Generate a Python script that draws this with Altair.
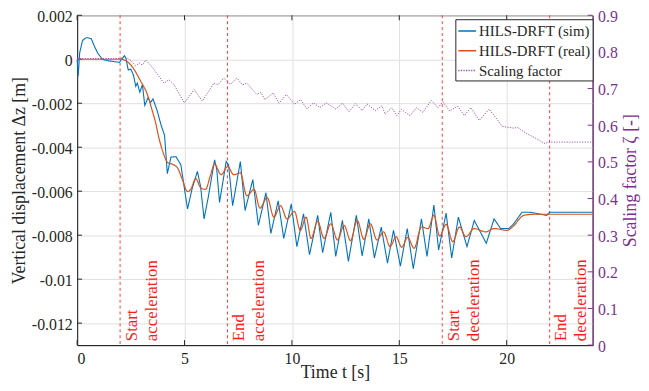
import altair as alt
import pandas as pd

# ---- data (dz in mm, converted to m below) ----
t_sim = [0.0, 0.05, 0.12, 0.25, 0.4, 0.5, 0.66, 0.8, 0.97, 1.18, 1.43, 1.97, 2.2, 2.27,
         2.38, 2.5, 2.62, 2.73, 2.8, 2.92, 3.04, 3.15, 3.3, 3.42, 3.53, 3.73, 3.91, 4.07,
         4.2, 4.37, 4.6, 4.83, 4.99, 5.14, 5.35, 5.6, 5.75, 5.91, 6.1, 6.4, 6.5, 6.63,
         6.94, 7.05, 7.24, 7.6, 7.82, 8.18, 8.44, 8.79, 9.02, 9.36, 9.62, 9.97, 10.23,
         10.54, 10.82, 11.2, 11.43, 11.81, 12.04, 12.35, 12.63, 13.0, 13.27, 13.58, 13.84,
         14.16, 14.45, 14.73, 15.05, 15.37, 15.65, 16.03, 16.29, 16.61, 16.83, 17.18,
         17.44, 17.75, 18.15, 18.49, 19.05, 19.41, 19.72, 20.1, 20.33, 20.71, 21.1, 21.86,
         22.0, 24.0]
dz_sim_mm = [0.0, -0.75, 0.3, 0.85, 0.97, 0.98, 0.93, 0.6, 0.26, 0.0, -0.07, -0.14, 0.16, 0.05,
             -0.49, -0.45, -0.71, -1.23, -1.08, -1.5, -1.16, -2.1, -1.75, -1.97, -1.8, -2.35, -3.0, -3.46,
             -5.2, -4.45, -4.43, -4.8, -5.84, -6.81, -5.9, -5.1, -5.8, -7.26, -6.3, -4.58, -5.0, -6.51,
             -4.65, -4.8, -6.66, -4.65, -6.88, -5.47, -7.55, -6.07, -7.92, -6.44, -8.15, -6.58, -8.52,
             -7.03, -8.89, -7.1, -8.8, -6.96, -8.97, -7.33, -9.19, -7.1, -8.94, -7.26, -9.04,
             -7.63, -9.27, -7.78, -9.41, -7.7, -9.52, -7.26, -8.97, -6.63, -8.67, -7.0,
             -9.04, -7.18, -8.52, -7.33, -8.37, -7.26, -7.7, -7.7, -7.48, -6.96, -6.96, -7.1,
             -6.96, -6.96]

t_real = [0.0, 2.04, 2.5, 2.96, 3.27, 3.5, 3.65, 3.8, 3.99, 4.22, 4.45, 4.68, 4.91, 5.14,
          5.3, 5.52, 5.75, 5.98, 6.2, 6.4, 6.7, 7.01, 7.29, 7.6, 7.9, 8.24, 8.51, 8.85,
          9.16, 9.47, 9.77, 10.12, 10.39, 10.66, 10.89, 11.2, 11.5, 11.81, 12.12, 12.43,
          12.73, 13.04, 13.35, 13.65, 13.96, 14.27, 14.57, 14.85, 15.11, 15.39, 15.69,
          16.03, 16.34, 16.61, 16.88, 17.18, 17.49, 17.8, 18.1, 18.49, 19.02, 19.41,
          20.02, 20.3, 20.79, 21.25, 24.0]
dz_real_mm = [0.0, 0.0, -0.26, -1.0, -1.6, -2.35, -2.87, -3.55, -4.2, -4.7, -4.78, -4.95, -5.5, -6.02,
              -5.9, -5.43, -5.84, -5.92, -5.3, -4.77, -5.25, -4.88, -5.25, -5.17, -6.21, -5.92, -6.77, -6.29,
              -7.18, -6.66, -7.26, -6.92, -7.78, -7.18, -8.15, -7.37, -8.15, -7.48, -8.22, -7.55,
              -8.25, -7.33, -8.19, -7.48, -8.22, -7.85, -8.52, -8.07, -8.55, -8.1, -8.6,
              -7.63, -7.7, -7.1, -8.04, -7.51, -8.3, -7.63, -8.07, -7.7, -7.85, -7.7,
              -7.78, -7.6, -7.1, -7.05, -7.05]

t_scale = [0.0, 2.03, 2.2, 2.5, 2.73, 2.89, 3.04, 3.19, 3.42, 3.73, 4.04, 4.27, 4.5, 4.99,
           5.45, 5.83, 6.37, 6.55, 6.83, 7.13, 7.44, 7.7, 7.9, 8.36, 8.55, 8.74, 9.13, 9.4,
           9.74, 10.12, 10.4, 10.7, 11.0, 11.3, 11.6, 12.04, 12.35, 12.66, 12.96, 13.27,
           13.5, 13.88, 14.19, 14.34, 14.65, 14.88, 15.1, 15.5, 15.8, 16.1, 16.49, 16.8,
           17.03, 17.34, 17.72, 18.03, 18.33, 18.72, 19.18, 19.5, 19.79, 20.1, 20.33, 20.5,
           20.94, 21.4, 21.78, 21.94, 24.0]
zeta = [0.782, 0.782, 0.787, 0.777, 0.762, 0.77, 0.764, 0.778, 0.764, 0.74, 0.715, 0.724, 0.712, 0.661,
        0.697, 0.666, 0.715, 0.71, 0.729, 0.711, 0.729, 0.71, 0.715, 0.684, 0.69, 0.67, 0.688, 0.66,
        0.684, 0.657, 0.67, 0.644, 0.661, 0.648, 0.661, 0.644, 0.66, 0.637, 0.659, 0.64,
        0.658, 0.64, 0.653, 0.63, 0.648, 0.626, 0.643, 0.626, 0.648, 0.635, 0.668, 0.648,
        0.664, 0.639, 0.652, 0.626, 0.648, 0.613, 0.644, 0.62, 0.597, 0.594, 0.592, 0.594,
        0.577, 0.563, 0.55, 0.554, 0.554]

event_t = [2, 7, 17, 22]
event_label = ["Start\nacceleration", "End\nacceleration", "Start\ndeceleration", "End\ndeceleration"]

series_names = ["HILS-DRFT (sim)", "HILS-DRFT (real)", "Scaling factor"]
series_colors = ["#0072BD", "#D95319", "#8E44A0"]
series_dash = [[1, 0], [1, 0], [1.2, 1.4]]

x_ticks = [0, 5, 10, 15, 20]
left_ticks = [0.002, 0, -0.002, -0.004, -0.006, -0.008, -0.01, -0.012]
right_ticks = [0, 0.1, 0.2, 0.3, 0.4, 0.5, 0.6, 0.7, 0.8, 0.9]

# ---- tables ----
df_sim = pd.DataFrame({"t": t_sim, "v": [v / 1000 for v in dz_sim_mm], "series": series_names[0]})
df_real = pd.DataFrame({"t": t_real, "v": [v / 1000 for v in dz_real_mm], "series": series_names[1]})
df_scale = pd.DataFrame({"t": t_scale, "v": zeta, "series": series_names[2]})
df_ev = pd.DataFrame({"t": event_t, "label": event_label})
df_xt = pd.DataFrame({"t": x_ticks})
df_lt = pd.DataFrame({"v": left_ticks})
df_rt = pd.DataFrame({"v": right_ticks})

FONT = "'Liberation Serif', 'Times New Roman', Times, serif"
PURPLE = "#7E2F8E"
INK = "#262626"
W = 522
H = 334
TICK = 5

legend = alt.Legend(title=None, orient="none", legendX=383, legendY=4, padding=2,
                    symbolType="stroke", symbolSize=324, symbolStrokeWidth=1.5,
                    labelFont=FONT, labelFontSize=15, labelColor=INK, labelOffset=2,
                    rowPadding=2, strokeColor=INK, fillColor="white", cornerRadius=0)
color = alt.Color("series:N", scale=alt.Scale(domain=series_names, range=series_colors), legend=legend)
dash = alt.StrokeDash("series:N", scale=alt.Scale(domain=series_names, range=series_dash), legend=legend)

x_enc = alt.X("t:Q", scale=alt.Scale(domain=[0, 24], nice=False),
              axis=alt.Axis(values=x_ticks, title="Time  t [s]", labelPadding=6,
                            titleY=33, titleBaseline="alphabetic"))

y_left = alt.Y("v:Q", scale=alt.Scale(domain=[-0.013, 0.002], nice=False),
               axis=alt.Axis(values=left_ticks, labelExpr="'' + datum.value",
                             title="Vertical displacement  Δz [m]", labelPadding=5, labelOffset=1,
                             titleAngle=270, titleX=-53, titleY=H / 2, titleBaseline="alphabetic",
                             titleAlign="center"))

y_right = alt.Y("v:Q", scale=alt.Scale(domain=[0, 0.9], nice=False),
                axis=alt.Axis(orient="right", values=right_ticks, labelExpr="'' + datum.value",
                              title="Scaling factor ζ [-]", labelPadding=5, labelOffset=1, grid=False,
                              labelColor=PURPLE, titleColor=PURPLE, domainColor=PURPLE,
                              titleAngle=270, titleX=43, titleY=H / 2, titleBaseline="alphabetic",
                              titleAlign="center"))

rules = alt.Chart(df_ev).mark_rule(color="#ff3b3b", strokeDash=[3, 3], strokeWidth=1).encode(x=x_enc)
texts = alt.Chart(df_ev).mark_text(angle=270, align="left", baseline="top", lineBreak="\n",
                                   lineHeight=20, dy=4, font=FONT, fontSize=17,
                                   color="#ff1a1a").encode(
    x=x_enc, y=alt.value(H - 4), text="label:N")

# inward ticks (MATLAB style)
xt_bottom = alt.Chart(df_xt).mark_rule(color=INK, strokeWidth=1).encode(
    x=x_enc, y=alt.value(H), y2=alt.value(H - TICK))
xt_top = alt.Chart(df_xt).mark_rule(color=INK, strokeWidth=1).encode(
    x=x_enc, y=alt.value(0), y2=alt.value(TICK))
lt = alt.Chart(df_lt).mark_rule(color=INK, strokeWidth=1).encode(
    y=y_left, x=alt.value(0), x2=alt.value(TICK))
rt = alt.Chart(df_rt).mark_rule(color=PURPLE, strokeWidth=1).encode(
    y=y_right, x=alt.value(W - TICK), x2=alt.value(W))

sim = alt.Chart(df_sim).mark_line(strokeWidth=1.1).encode(x=x_enc, y=y_left, color=color, strokeDash=dash)
real = alt.Chart(df_real).mark_line(strokeWidth=1.2, interpolate="monotone").encode(
    x=x_enc, y=y_left, color=color, strokeDash=dash)
scale_line = alt.Chart(df_scale).mark_line(strokeWidth=0.9).encode(
    x=x_enc, y=y_right, color=color, strokeDash=dash)

left = alt.layer(rules, texts, xt_bottom, xt_top, lt, sim, real)
right = alt.layer(rt, scale_line)
chart = alt.layer(left, right).resolve_scale(y="independent").properties(
    width=W, height=H,
    padding={"left": 70, "top": 5, "right": 49, "bottom": 36},
    autosize=alt.AutoSizeParams(type="none"),
).configure_view(stroke=INK, strokeWidth=1).configure_axis(
    labelFont=FONT, labelFontSize=16, labelColor=INK, titleFont=FONT, titleFontSize=18,
    titleFontWeight="normal", titleColor=INK, ticks=False, domainColor=INK,
    gridColor="#e0e0e0", gridWidth=1
)

chart.save("out.html", embed_options={"renderer": "svg", "actions": False})
